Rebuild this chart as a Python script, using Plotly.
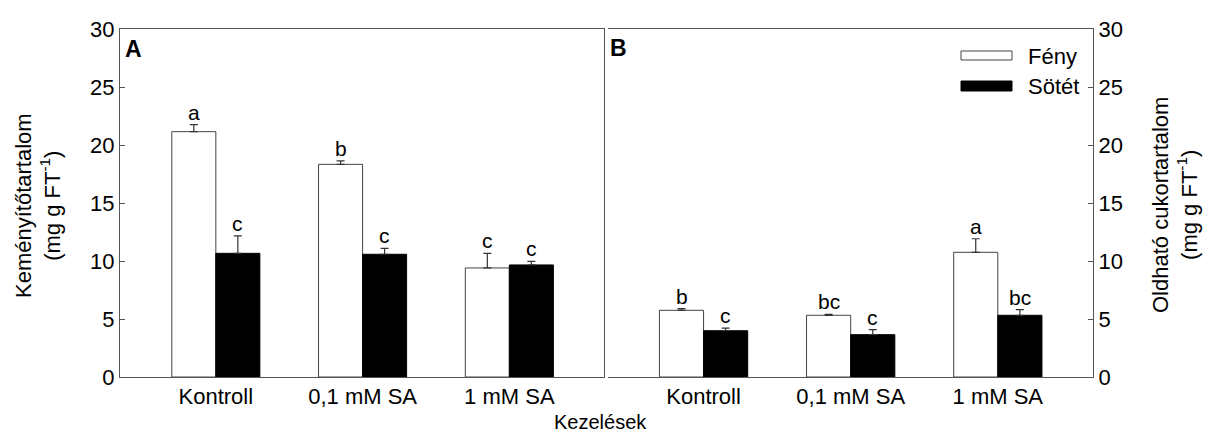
import plotly.graph_objects as go

# Treatments (x categories) and series
treatments = ["Kontroll", "0,1 mM SA", "1 mM SA"]
series = ["Fény", "Sötét"]

# Panel A: starch content (mg g FT-1)
starch_feny = [21.15, 18.33, 9.40]
starch_feny_err = [0.60, 0.30, 1.25]
starch_sotet = [10.66, 10.58, 9.66]
starch_sotet_err = [1.50, 0.50, 0.30]
starch_feny_sig = ["a", "b", "c"]
starch_sotet_sig = ["c", "c", "c"]

# Panel B: soluble sugar content (mg g FT-1)
sugar_feny = [5.75, 5.32, 10.75]
sugar_feny_err = [0.14, 0.08, 1.17]
sugar_sotet = [3.99, 3.65, 5.32]
sugar_sotet_err = [0.23, 0.43, 0.48]
sugar_feny_sig = ["b", "bc", "a"]
sugar_sotet_sig = ["c", "c", "bc"]

y_ticks = [0, 5, 10, 15, 20, 25, 30]

FONT = "Arial, Liberation Sans, sans-serif"
FS = 22
W, H = 1206, 434
ML, MR, MT, MB = 120, 113, 29, 57
PW = W - ML - MR
PH = H - MT - MB


def px_x(x):
    return (x - ML) / PW


def px_y(y):
    return (H - MB - y) / PH


fig = go.Figure()

panels = [
    ("x", "y", starch_feny, starch_feny_err, starch_sotet, starch_sotet_err,
     starch_feny_sig, starch_sotet_sig),
    ("x2", "y2", sugar_feny, sugar_feny_err, sugar_sotet, sugar_sotet_err,
     sugar_feny_sig, sugar_sotet_sig),
]

for xa, ya, f, fe, s, se, fsig, ssig in panels:
    fig.add_trace(go.Bar(
        x=treatments, y=f, name=series[0], xaxis=xa, yaxis=ya,
        marker=dict(color="white", line=dict(color="#444", width=1)),
        error_y=dict(type="data", symmetric=False, array=fe,
                     arrayminus=[0] * len(fe), color="#333",
                     thickness=1.2, width=4),
        showlegend=False,
    ))
    fig.add_trace(go.Bar(
        x=treatments, y=s, name=series[1], xaxis=xa, yaxis=ya,
        marker=dict(color="black", line=dict(color="black", width=1)),
        error_y=dict(type="data", symmetric=False, array=se,
                     arrayminus=[0] * len(se), color="#333",
                     thickness=1.2, width=4),
        showlegend=False,
    ))
    # significance letters above the error bars
    for i in range(len(treatments)):
        fig.add_annotation(x=i - 0.15, y=f[i] + fe[i], xref=xa, yref=ya,
                           text=fsig[i], showarrow=False, yanchor="bottom",
                           yshift=-1, font=dict(size=21, color="black"))
        fig.add_annotation(x=i + 0.15, y=s[i] + se[i], xref=xa, yref=ya,
                           text=ssig[i], showarrow=False, yanchor="bottom",
                           yshift=-1, font=dict(size=21, color="black"))

axis_col = "#555"
xcommon = dict(type="category", range=[-0.653, 2.647], showgrid=False,
               zeroline=False, showline=True, linecolor=axis_col, linewidth=1,
               mirror=True, ticks="", tickfont=dict(size=FS, color="black"))
ycommon = dict(range=[0, 30], tickvals=y_ticks, showgrid=False, zeroline=False,
               showline=True, linecolor=axis_col, linewidth=1, ticks="inside",
               ticklen=5, tickcolor=axis_col, tickfont=dict(size=FS, color="black"))

fig.update_layout(
    width=W, height=H,
    margin=dict(l=ML, r=MR, t=MT, b=MB),
    paper_bgcolor="white", plot_bgcolor="white",
    font=dict(family=FONT, size=FS, color="black"),
    barmode="group", bargap=0.4, bargroupgap=0,
    xaxis=dict(domain=[0, px_x(604.3)], anchor="y", **xcommon),
    yaxis=dict(domain=[0, 1], anchor="x", side="left", **ycommon),
    xaxis2=dict(domain=[px_x(607.5), 1], anchor="y2", **xcommon),
    yaxis2=dict(domain=[0, 1], anchor="x2", side="right", **ycommon),
    showlegend=False,
)
fig.update_yaxes(mirror=True, selector=dict(side="left"))

# panel letters
fig.add_annotation(x=px_x(123), y=px_y(49), xref="paper", yref="paper",
                   text="<b>A</b>", showarrow=False, xanchor="left",
                   yanchor="middle", font=dict(size=23))
fig.add_annotation(x=px_x(608), y=px_y(48), xref="paper", yref="paper",
                   text="<b>B</b>", showarrow=False, xanchor="left",
                   yanchor="middle", font=dict(size=23))

# axis titles
fig.add_annotation(x=px_x(38), y=px_y(206), xref="paper", yref="paper",
                   text="Keményítőtartalom<br>(mg g FT<sup>-1</sup>)",
                   showarrow=False, textangle=-90, xanchor="center",
                   yanchor="middle", font=dict(size=FS))
fig.add_annotation(x=px_x(1175), y=px_y(205), xref="paper", yref="paper",
                   text="Oldható cukortartalom<br>(mg g FT<sup>-1</sup>)",
                   showarrow=False, textangle=-90, xanchor="center",
                   yanchor="middle", font=dict(size=FS))
fig.add_annotation(x=px_x(600), y=px_y(422), xref="paper", yref="paper",
                   text="Kezelések", showarrow=False, xanchor="center",
                   yanchor="middle", font=dict(size=20))

# legend swatches and labels
legend_items = [(series[0], "white", "#444", 51, 60, 56.5),
                (series[1], "black", "black", 81, 91, 86.5)]
for label, fill, edge, y0, y1, yc in legend_items:
    fig.add_shape(type="rect", xref="paper", yref="paper",
                  x0=px_x(961), x1=px_x(1012), y0=px_y(y1), y1=px_y(y0),
                  fillcolor=fill, line=dict(color=edge, width=1))
    fig.add_annotation(x=px_x(1026), y=px_y(yc), xref="paper", yref="paper",
                       text=label, showarrow=False, xanchor="left",
                       yanchor="middle", font=dict(size=FS))

fig.write_html("out.html")
